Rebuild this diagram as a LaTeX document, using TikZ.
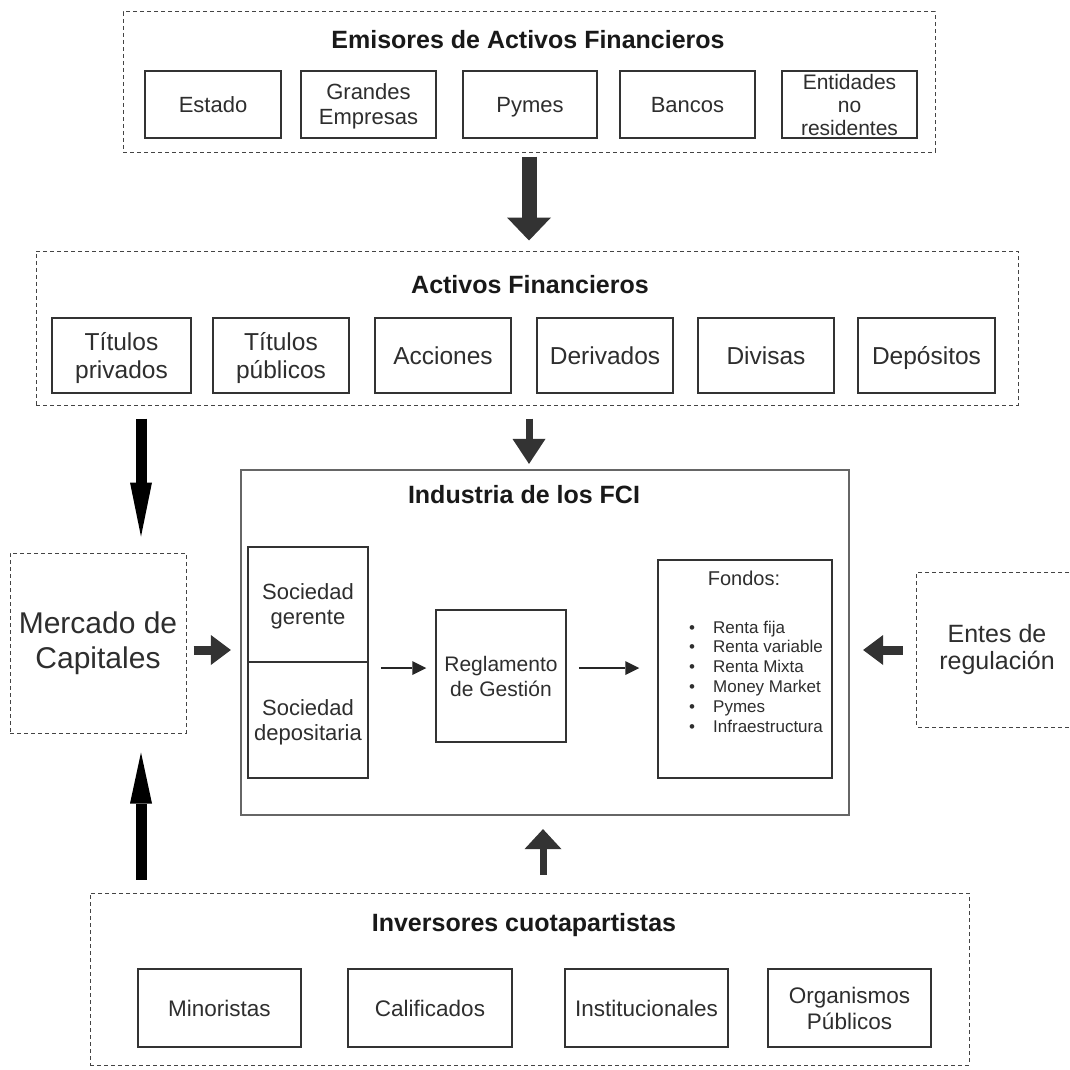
\documentclass[tikz,border=0pt]{standalone}
\usepackage{fontspec}
\setmainfont{Liberation Sans}
\usetikzlibrary{arrows.meta}
\definecolor{tx}{HTML}{2E2E2E}
\definecolor{bd}{HTML}{333333}
\definecolor{dsh}{HTML}{444444}
\definecolor{ar}{HTML}{333333}
\definecolor{indc}{HTML}{666666}
\begin{document}
\begin{tikzpicture}[x=1pt,y=-1pt,
  sz/.style 2 args={minimum width=#1pt, minimum height=#2pt},
  box/.style={draw=bd, line width=1.5pt, text=tx, align=center, inner sep=0pt, text depth=0pt, font=\fontsize{22}{25}\selectfont},
  abox/.style={box, font=\fontsize{24.5}{28}\selectfont},
  ibox/.style={box, font=\fontsize{22.5}{26}\selectfont},
  dline/.style={draw=dsh, line width=1pt, dash pattern=on 4pt off 3pt},
  dbox/.style={dline, inner sep=0pt},
  ttl/.style={font=\bfseries\fontsize{25}{29}\selectfont, text=black!90, inner sep=0pt},
  ar1/.style={draw=ar, line width=15pt, -{Triangle[width=44pt,length=23pt,line width=0pt]}},
  ar2/.style={draw=ar, line width=7pt, -{Triangle[width=33pt,length=25pt,line width=0pt]}},
  ar3/.style={draw=ar, line width=7pt, -{Triangle[width=37pt,length=20pt,line width=0pt]}},
  arside/.style={draw=ar, line width=9pt, -{Triangle[width=30pt,length=20pt,line width=0pt]}},
  arblk/.style={draw=black, line width=11pt, -{Triangle[width=22pt,length=#1pt,line width=0pt]}},
  arthin/.style={draw=black!85, line width=2.5pt, -{Triangle[width=14pt,length=14pt,line width=0pt]}}
]
\useasboundingbox (0,0) rectangle (1069,1070);
\fill[white] (0,0) rectangle (1069,1070);

% Emisores
\node[dbox, sz={812}{140}] (emi) at (529,82) {};
\node[ttl] (emit) at (528,40) {Emisores de Activos Financieros};
\node[box, sz={136}{67}] (e1) at (213,104.5) {Estado};
\node[box, sz={135}{67}] (e2) at (368.5,104.5) {Grandes\\Empresas};
\node[box, sz={134}{67}] (e3) at (530,104.5) {Pymes};
\node[box, sz={135}{67}] (e4) at (687.5,104.5) {Bancos};
\node[box, sz={135}{67}, font=\fontsize{21}{23}\selectfont] (e5) at (849.5,104.5) {Entidades\\no\\residentes};

% Activos
\node[dbox, sz={982}{154}] (act) at (527,328) {};
\node[ttl] (actt) at (530,285) {Activos Financieros};
\node[abox, sz={139}{75}] (a1) at (121.5,355.5) {Títulos\\privados};
\node[abox, sz={136}{75}] (a2) at (281,355.5) {Títulos\\públicos};
\node[abox, sz={136}{75}] (a3) at (443,355.5) {Acciones};
\node[abox, sz={136}{75}] (a4) at (605,355.5) {Derivados};
\node[abox, sz={136}{75}] (a5) at (766,355.5) {Divisas};
\node[abox, sz={137}{75}] (a6) at (926.5,355.5) {Depósitos};

% Industria
\node[draw=indc, line width=2.2pt, sz={608}{345}] (ind) at (545,642.5) {};
\node[ttl] (indt) at (524,495) {Industria de los FCI};
\node[box, sz={120}{115}] (sg) at (308,604.5) {Sociedad\\gerente};
\node[box, sz={120}{116}] (sd) at (308,720) {Sociedad\\depositaria};
\node[box, sz={130}{132}, font=\fontsize{21}{25}\selectfont] (reg) at (501,676) {Reglamento\\de Gestión};
\node[box, sz={174}{218}] (fon) at (745,669) {};
\node[text=tx, font=\fontsize{20}{24}\selectfont, inner sep=0pt] (font) at (744,578) {Fondos:};
\node[text=tx, font=\fontsize{17}{19.8}\selectfont, align=left, anchor=west, inner sep=0pt] (fl) at (689,676.5)
  {\makebox[24pt][l]{•}Renta fija\\
   \makebox[24pt][l]{•}Renta variable\\
   \makebox[24pt][l]{•}Renta Mixta\\
   \makebox[24pt][l]{•}Money Market\\
   \makebox[24pt][l]{•}Pymes\\
   \makebox[24pt][l]{•}Infraestructura};

% Mercado
\node[dbox, sz={176}{180}, text=tx, align=center, font=\fontsize{30}{35}\selectfont] (mer) at (98,643) {Mercado de\\Capitales};

% Entes
\node[inner sep=0pt, sz={152}{154}] (ent) at (993,650) {};
\draw[dline] (ent.north east) -- (ent.north west) -- (ent.south west) -- (ent.south east);
\node[text=tx, align=center, font=\fontsize{25}{27}\selectfont, inner sep=0pt] (entt) at (997,650) {Entes de\\regulación};

% Inversores
\node[dbox, sz={879}{172}] (inv) at (529.5,979) {};
\node[ttl] (invt) at (524,925) {Inversores cuotapartistas};
\node[ibox, sz={163}{78}] (i1) at (219.5,1008) {Minoristas};
\node[ibox, sz={164}{78}] (i2) at (430,1008) {Calificados};
\node[ibox, sz={163}{78}] (i3) at (646.5,1008) {Institucionales};
\node[ibox, sz={163}{78}] (i4) at (849.5,1008) {Organismos\\Públicos};

% helper coordinates
\coordinate (lx) at (141,0);
\coordinate (bx) at (543,0);
\coordinate (ax) at (529,0);
\coordinate (my) at (0,650);
\coordinate (sy) at (0,668);

% arrows
\draw[ar1, shorten <=4pt, shorten >=10pt] (emi.south -| ax) -- (act.north -| ax);
\draw[ar2, shorten <=13pt, shorten >=5pt] (act.south -| ax) -- (ind.north -| ax);
\draw[arblk=54, shorten <=13pt, shorten >=16pt] (act.south -| lx) -- (mer.north -| lx);
\draw[arblk=51, shorten <=13pt, shorten >=19pt] (inv.north -| lx) -- (mer.south -| lx);
\draw[arside, shorten <=7pt, shorten >=9pt] (mer.east |- my) -- (ind.west |- my);
\draw[arside, shorten <=14pt, shorten >=13pt] (ent.west |- my) -- (ind.east |- my);
\draw[ar3, shorten <=18pt, shorten >=13pt] (inv.north -| bx) -- (ind.south -| bx);
\draw[arthin, shorten <=12pt, shorten >=9pt] (sd.east |- sy) -- (reg.west |- sy);
\draw[arthin, shorten <=12pt, shorten >=18pt] (reg.east |- sy) -- (fon.west |- sy);
\end{tikzpicture}
\end{document}
